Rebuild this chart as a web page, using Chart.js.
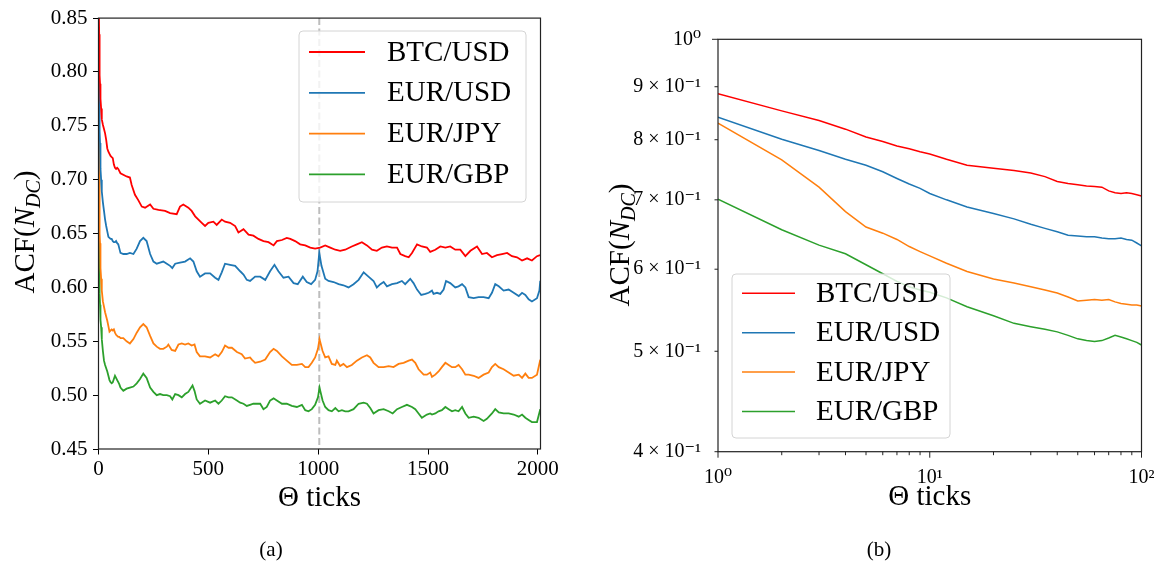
<!DOCTYPE html>
<html>
<head>
<meta charset="utf-8">
<script src="https://cdn.jsdelivr.net/npm/chart.js@4.4.1/dist/chart.umd.min.js"></script>
<style>
  body { margin: 0; background: #fff; width: 1162px; height: 567px; overflow: hidden; position: relative; font-family: 'Liberation Serif', serif; }
  canvas { position: absolute; top: 0; }
  #acfLinear { left: 0; }
  #acfLogLog { left: 580px; }
  .caption { position: absolute; top: 536px; font-size: 21px; line-height: 26px; transform: translateX(-50%); color: #000; }
</style>
</head>
<body>
<canvas id="acfLinear" width="580" height="567"></canvas>
<canvas id="acfLogLog" width="582" height="567"></canvas>
<div class="caption" style="left:271px">(a)</div>
<div class="caption" style="left:879px">(b)</div>
<script>
// ACF of directional-change counts vs. threshold lag (Θ ticks)
const pairNames = ['BTC/USD', 'EUR/USD', 'EUR/JPY', 'EUR/GBP'];
const pairColors = ['#ff0000', '#1f77b4', '#ff7f0e', '#2ca02c'];

// lags 1..100 (shared by both panels)
const shortLags = [1, 2, 3, 4, 5, 6, 7, 8, 9, 10, 12, 15, 20, 25, 30, 35, 40, 45, 50, 55, 60, 65, 70, 75, 80, 85, 90, 95, 100];
const btcShort = [0.886, 0.853, 0.835, 0.819, 0.805, 0.797, 0.789, 0.784, 0.779, 0.775, 0.766, 0.756, 0.751, 0.747, 0.743, 0.737, 0.729, 0.726, 0.724, 0.722, 0.721, 0.720, 0.714, 0.711, 0.710, 0.711, 0.710, 0.708, 0.706];
const eurUsdShort = [0.841, 0.801, 0.781, 0.766, 0.756, 0.745, 0.734, 0.725, 0.718, 0.710, 0.700, 0.689, 0.679, 0.671, 0.663, 0.657, 0.652, 0.647, 0.646, 0.645, 0.645, 0.643, 0.642, 0.642, 0.643, 0.641, 0.640, 0.636, 0.632];
const eurJpyShort = [0.830, 0.765, 0.720, 0.682, 0.659, 0.650, 0.641, 0.631, 0.624, 0.618, 0.608, 0.597, 0.587, 0.582, 0.577, 0.573, 0.569, 0.564, 0.559, 0.560, 0.561, 0.560, 0.561, 0.558, 0.556, 0.555, 0.554, 0.554, 0.553];
const eurGbpShort = [0.701, 0.655, 0.633, 0.621, 0.606, 0.594, 0.584, 0.577, 0.573, 0.570, 0.563, 0.552, 0.541, 0.532, 0.528, 0.525, 0.522, 0.518, 0.514, 0.512, 0.511, 0.512, 0.515, 0.518, 0.516, 0.514, 0.512, 0.510, 0.507];

// lags beyond 100 (panel a only)
const btcLongLags = [128, 143, 151, 166, 181, 197, 212, 235, 250, 273, 303, 326, 356, 371, 386, 409, 424, 440, 470, 485, 500, 523, 538, 561, 576, 599, 622, 637, 660, 683, 705, 728, 751, 774, 797, 812, 835, 857, 873, 895, 918, 941, 964, 986, 1009, 1032, 1055, 1078, 1100, 1123, 1153, 1176, 1199, 1222, 1245, 1267, 1290, 1313, 1336, 1359, 1374, 1396, 1412, 1427, 1450, 1472, 1495, 1510, 1533, 1556, 1579, 1601, 1624, 1647, 1670, 1693, 1723, 1746, 1768, 1791, 1814, 1837, 1860, 1882, 1905, 1928, 1951, 1973, 1996, 2010];
const btcLong = [0.703, 0.702, 0.695, 0.686, 0.681, 0.675, 0.674, 0.677, 0.673, 0.672, 0.671, 0.669, 0.668, 0.675, 0.677, 0.674, 0.671, 0.666, 0.660, 0.657, 0.660, 0.661, 0.658, 0.663, 0.661, 0.660, 0.657, 0.651, 0.654, 0.649, 0.648, 0.645, 0.643, 0.642, 0.639, 0.643, 0.644, 0.646, 0.645, 0.643, 0.640, 0.639, 0.637, 0.636, 0.637, 0.639, 0.637, 0.635, 0.634, 0.635, 0.638, 0.640, 0.642, 0.639, 0.635, 0.634, 0.637, 0.638, 0.637, 0.637, 0.631, 0.629, 0.628, 0.632, 0.640, 0.638, 0.637, 0.633, 0.635, 0.638, 0.637, 0.638, 0.635, 0.635, 0.629, 0.634, 0.638, 0.631, 0.632, 0.628, 0.630, 0.631, 0.632, 0.629, 0.628, 0.625, 0.627, 0.625, 0.629, 0.630];

const eurUsdLongLags = [113, 128, 143, 159, 174, 189, 204, 219, 235, 250, 265, 280, 295, 311, 326, 336, 349, 371, 394, 417, 432, 447, 462, 485, 508, 531, 546, 561, 576, 599, 622, 645, 660, 675, 690, 713, 736, 759, 781, 801, 819, 842, 865, 888, 907, 930, 948, 968, 986, 997, 1005, 1015, 1032, 1047, 1070, 1093, 1115, 1138, 1161, 1184, 1207, 1229, 1252, 1267, 1283, 1298, 1313, 1336, 1359, 1381, 1396, 1419, 1434, 1450, 1469, 1488, 1503, 1518, 1525, 1541, 1556, 1571, 1582, 1601, 1624, 1639, 1655, 1670, 1685, 1708, 1730, 1753, 1776, 1791, 1806, 1822, 1844, 1867, 1890, 1913, 1928, 1943, 1958, 1973, 1996, 2007, 2011];
const eurUsdLong = [0.631, 0.631, 0.632, 0.631, 0.636, 0.643, 0.646, 0.643, 0.631, 0.624, 0.622, 0.623, 0.624, 0.622, 0.620, 0.618, 0.622, 0.623, 0.624, 0.627, 0.624, 0.615, 0.610, 0.613, 0.613, 0.609, 0.607, 0.614, 0.622, 0.621, 0.620, 0.615, 0.612, 0.607, 0.606, 0.610, 0.610, 0.607, 0.615, 0.621, 0.615, 0.609, 0.610, 0.604, 0.603, 0.610, 0.605, 0.603, 0.607, 0.615, 0.632, 0.620, 0.608, 0.606, 0.605, 0.603, 0.602, 0.600, 0.603, 0.607, 0.614, 0.610, 0.606, 0.600, 0.603, 0.605, 0.601, 0.603, 0.604, 0.606, 0.603, 0.608, 0.604, 0.598, 0.593, 0.594, 0.595, 0.597, 0.594, 0.595, 0.594, 0.598, 0.606, 0.604, 0.600, 0.601, 0.603, 0.600, 0.591, 0.590, 0.591, 0.591, 0.590, 0.595, 0.603, 0.601, 0.597, 0.598, 0.595, 0.592, 0.595, 0.593, 0.589, 0.587, 0.590, 0.597, 0.606];

const eurJpyLongLags = [113, 128, 143, 159, 174, 189, 204, 219, 235, 250, 265, 280, 295, 311, 318, 333, 349, 364, 379, 394, 409, 424, 437, 447, 462, 485, 508, 531, 546, 561, 576, 592, 607, 630, 652, 667, 690, 698, 713, 736, 759, 781, 797, 812, 835, 857, 880, 903, 926, 941, 956, 971, 986, 999, 1006, 1020, 1032, 1047, 1062, 1078, 1085, 1100, 1115, 1131, 1153, 1176, 1199, 1222, 1237, 1252, 1275, 1298, 1321, 1343, 1366, 1389, 1412, 1427, 1442, 1457, 1480, 1495, 1510, 1518, 1533, 1548, 1563, 1579, 1594, 1609, 1624, 1639, 1655, 1670, 1685, 1708, 1730, 1753, 1776, 1791, 1806, 1822, 1844, 1867, 1890, 1913, 1928, 1943, 1958, 1973, 1996, 2011];
const eurJpyLong = [0.553, 0.550, 0.548, 0.552, 0.558, 0.563, 0.566, 0.563, 0.555, 0.548, 0.545, 0.543, 0.543, 0.545, 0.547, 0.542, 0.541, 0.547, 0.548, 0.547, 0.548, 0.546, 0.547, 0.540, 0.536, 0.536, 0.535, 0.538, 0.536, 0.540, 0.546, 0.544, 0.544, 0.540, 0.538, 0.534, 0.535, 0.533, 0.530, 0.531, 0.533, 0.540, 0.543, 0.541, 0.536, 0.532, 0.528, 0.528, 0.529, 0.526, 0.526, 0.530, 0.535, 0.543, 0.552, 0.541, 0.535, 0.536, 0.529, 0.528, 0.532, 0.527, 0.529, 0.526, 0.528, 0.532, 0.535, 0.537, 0.535, 0.530, 0.526, 0.526, 0.527, 0.526, 0.529, 0.530, 0.532, 0.533, 0.530, 0.524, 0.519, 0.519, 0.521, 0.517, 0.519, 0.522, 0.526, 0.530, 0.528, 0.526, 0.526, 0.528, 0.524, 0.519, 0.519, 0.518, 0.516, 0.519, 0.521, 0.526, 0.529, 0.526, 0.524, 0.521, 0.518, 0.519, 0.516, 0.520, 0.516, 0.516, 0.519, 0.533];

const eurGbpLongLags = [113, 128, 143, 159, 174, 189, 204, 219, 235, 250, 265, 280, 295, 311, 326, 336, 349, 364, 379, 394, 409, 428, 437, 447, 462, 485, 508, 531, 546, 561, 576, 592, 607, 630, 645, 660, 675, 690, 705, 721, 736, 751, 766, 781, 797, 812, 835, 857, 880, 903, 926, 941, 956, 971, 986, 999, 1006, 1020, 1032, 1047, 1062, 1078, 1093, 1108, 1123, 1138, 1161, 1184, 1207, 1222, 1237, 1252, 1275, 1298, 1321, 1339, 1359, 1381, 1404, 1427, 1442, 1457, 1472, 1495, 1510, 1518, 1533, 1548, 1563, 1579, 1594, 1609, 1624, 1639, 1655, 1670, 1685, 1708, 1730, 1753, 1768, 1791, 1806, 1822, 1844, 1867, 1890, 1913, 1928, 1943, 1958, 1973, 1996, 2011];
const eurGbpLong = [0.504, 0.506, 0.507, 0.508, 0.511, 0.515, 0.520, 0.516, 0.507, 0.503, 0.500, 0.501, 0.500, 0.500, 0.499, 0.496, 0.501, 0.500, 0.498, 0.501, 0.503, 0.509, 0.504, 0.496, 0.492, 0.495, 0.493, 0.495, 0.492, 0.495, 0.499, 0.498, 0.498, 0.495, 0.493, 0.492, 0.490, 0.491, 0.492, 0.492, 0.492, 0.487, 0.489, 0.495, 0.497, 0.495, 0.492, 0.492, 0.490, 0.489, 0.491, 0.486, 0.485, 0.487, 0.491, 0.498, 0.507, 0.495, 0.489, 0.486, 0.485, 0.488, 0.485, 0.486, 0.485, 0.485, 0.487, 0.492, 0.493, 0.492, 0.488, 0.483, 0.486, 0.487, 0.485, 0.483, 0.487, 0.489, 0.491, 0.489, 0.487, 0.483, 0.479, 0.482, 0.483, 0.482, 0.483, 0.485, 0.486, 0.489, 0.487, 0.485, 0.486, 0.485, 0.489, 0.483, 0.479, 0.480, 0.479, 0.476, 0.478, 0.483, 0.487, 0.484, 0.483, 0.483, 0.482, 0.480, 0.482, 0.479, 0.477, 0.475, 0.475, 0.487];

const markerLag = 1005;           // dashed reference line in panel (a)
const linearXTicks = [0, 500, 1000, 1500, 2000];
const logXTicks = [1, 2, 3, 4, 5, 6, 7, 8, 9, 10, 20, 30, 40, 50, 60, 70, 80, 90, 100];
const logYTicks = [0.4, 0.5, 0.6, 0.7, 0.8, 0.9, 1];

const serif = "'Liberation Serif', 'DejaVu Serif', serif";
Chart.defaults.font.family = serif;
Chart.defaults.color = '#000';

function toPoints(lags, values) {
  return lags.map((x, i) => ({ x: x, y: values[i] }));
}

const shortSets = [btcShort, eurUsdShort, eurJpyShort, eurGbpShort];
const longSets = [
  [btcLongLags, btcLong],
  [eurUsdLongLags, eurUsdLong],
  [eurJpyLongLags, eurJpyLong],
  [eurGbpLongLags, eurGbpLong]
];

function makeDatasets(withLong, width) {
  return pairNames.map((name, i) => {
    let pts = toPoints(shortLags, shortSets[i]);
    if (withLong) pts = pts.concat(toPoints(longSets[i][0], longSets[i][1]));
    return {
      label: name,
      data: pts,
      borderColor: pairColors[i],
      backgroundColor: pairColors[i],
      borderWidth: width,
      pointRadius: 0,
      tension: 0,
      fill: false
    };
  });
}

// superscript digits for 10^n tick labels
const supMap = { '-': '\u207B', '0': '\u2070', '1': '\u00B9', '2': '\u00B2', '3': '\u00B3', '4': '\u2074', '5': '\u2075', '6': '\u2076', '7': '\u2077', '8': '\u2078', '9': '\u2079' };
function sup(n) {
  return String(n).split('').map(c => supMap[c]).join('');
}
function isPow10(v) {
  const l = Math.log10(v);
  return Math.abs(l - Math.round(l)) < 1e-9;
}

// box around the axes, dashed marker and log tick marks
const axesFrame = {
  id: 'axesFrame',
  beforeDatasetsDraw(chart, args, opts) {
    if (opts.markerLag == null) return;
    const { ctx, chartArea: a, scales } = chart;
    const px = scales.x.getPixelForValue(opts.markerLag);
    ctx.save();
    ctx.strokeStyle = '#bdbdbd';
    ctx.lineWidth = 2;
    ctx.setLineDash([7, 3.5]);
    ctx.beginPath();
    ctx.moveTo(px, a.top);
    ctx.lineTo(px, a.bottom);
    ctx.stroke();
    ctx.restore();
  },
  afterDatasetsDraw(chart, args, opts) {
    const { ctx, chartArea: a, scales } = chart;
    ctx.save();
    ctx.strokeStyle = opts.color;
    ctx.lineWidth = opts.width;
    ctx.strokeRect(a.left, a.top, a.right - a.left, a.bottom - a.top);
    if (opts.logTicks) {
      ctx.lineWidth = 1;
      ctx.beginPath();
      scales.x.ticks.forEach(t => {
        const px = scales.x.getPixelForValue(t.value);
        const len = isPow10(t.value) ? 6 : 3.5;
        ctx.moveTo(px, a.bottom);
        ctx.lineTo(px, a.bottom + len);
      });
      scales.y.ticks.forEach(t => {
        const py = scales.y.getPixelForValue(t.value);
        const len = isPow10(t.value) ? 6 : 3.5;
        ctx.moveTo(a.left, py);
        ctx.lineTo(a.left - len, py);
      });
      ctx.stroke();
    }
    ctx.restore();
  }
};

// legend in a rounded box
const boxLegend = {
  id: 'boxLegend',
  afterDatasetsDraw(chart, args, o) {
    const ctx = chart.ctx;
    ctx.save();
    ctx.beginPath();
    if (ctx.roundRect) ctx.roundRect(o.x, o.y, o.w, o.h, 4);
    else ctx.rect(o.x, o.y, o.w, o.h);
    ctx.fillStyle = 'rgba(255,255,255,0.8)';
    ctx.fill();
    ctx.strokeStyle = '#d4d4d4';
    ctx.lineWidth = 1;
    ctx.stroke();
    ctx.font = o.size + 'px ' + serif;
    ctx.textBaseline = 'middle';
    ctx.fillStyle = '#000';
    chart.data.datasets.forEach((ds, i) => {
      const cy = o.y + o.firstRow + i * o.rowGap;
      ctx.strokeStyle = ds.borderColor;
      ctx.lineWidth = ds.borderWidth;
      ctx.beginPath();
      ctx.moveTo(o.x + 10, cy);
      ctx.lineTo(o.x + 10 + o.lineLen, cy);
      ctx.stroke();
      ctx.fillText(ds.label, o.x + o.textOffset, cy + 1);
    });
    ctx.restore();
  }
};

// rotated y label ACF(N_DC) with italic N and subscript
const acfTitle = {
  id: 'acfTitle',
  afterDraw(chart, args, o) {
    const ctx = chart.ctx;
    const s = o.size;
    const parts = [
      ['ACF(', s + 'px ' + serif, 0],
      ['N', 'italic ' + s + 'px ' + serif, 0],
      ['DC', 'italic ' + Math.round(s * 0.7) + 'px ' + serif, s * 0.22],
      [')', s + 'px ' + serif, 0]
    ];
    ctx.save();
    ctx.translate(o.x, o.y);
    ctx.rotate(-Math.PI / 2);
    ctx.fillStyle = '#000';
    ctx.textBaseline = 'alphabetic';
    let total = 0;
    parts.forEach(p => { ctx.font = p[1]; p.push(ctx.measureText(p[0]).width); total += p[3]; });
    let x = -total / 2;
    parts.forEach(p => {
      ctx.font = p[1];
      ctx.fillText(p[0], x, s * 0.33 + p[2]);
      x += p[3];
    });
    ctx.restore();
  }
};

const tickFont = { size: 21 };
const logTickFont = { size: 20 };
const titleFont = { size: 29 };

// (a) linear axes, lags up to ~2000
new Chart(document.getElementById('acfLinear'), {
  type: 'line',
  data: { datasets: makeDatasets(true, 1.8) },
  options: {
    responsive: false,
    animation: false,
    events: [],
    layout: { padding: { left: 0, right: 39.5, top: 17.5, bottom: 51 } },
    scales: {
      x: {
        type: 'linear',
        min: 0,
        max: 2012,
        afterFit: s => { s.height = 67; },
        afterBuildTicks: s => { s.ticks = linearXTicks.map(v => ({ value: v })); },
        grid: { drawOnChartArea: false, drawTicks: true, tickLength: 5.5, color: '#000' },
        border: { display: false },
        ticks: { font: tickFont, padding: 2, maxRotation: 0, autoSkip: false, callback: v => String(v) },
        title: { display: true, text: 'Θ ticks', font: titleFont, padding: 0 }
      },
      y: {
        min: 0.45,
        max: 0.85,
        afterFit: s => { s.width = 98.5; },
        grid: { drawOnChartArea: false, drawTicks: true, tickLength: 5.5, color: '#000' },
        border: { display: false },
        ticks: { stepSize: 0.05, font: tickFont, padding: 5.5, callback: v => v.toFixed(2) }
      }
    },
    plugins: {
      legend: { display: false },
      tooltip: { enabled: false },
      axesFrame: { color: '#222', width: 1.2, markerLag: markerLag },
      boxLegend: { x: 299, y: 31, w: 227, h: 171, firstRow: 21, rowGap: 40.8, lineLen: 56, textOffset: 88, size: 29 },
      acfTitle: { x: 24, y: 232, size: 29 }
    }
  },
  plugins: [axesFrame, boxLegend, acfTitle]
});

// (b) log-log axes, lags 1..100
new Chart(document.getElementById('acfLogLog'), {
  type: 'line',
  data: { datasets: makeDatasets(false, 1.5) },
  options: {
    responsive: false,
    animation: false,
    events: [],
    layout: { padding: { left: 0, right: 20.5, top: 39.3, bottom: 52.3 } },
    scales: {
      x: {
        type: 'logarithmic',
        min: 1,
        max: 100,
        afterFit: s => { s.height = 63; },
        afterBuildTicks: s => { s.ticks = logXTicks.map(v => ({ value: v })); },
        grid: { display: false },
        border: { display: false },
        ticks: {
          font: logTickFont, padding: 6, maxRotation: 0, autoSkip: false,
          callback: v => isPow10(v) ? '10' + sup(Math.round(Math.log10(v))) : ''
        },
        title: { display: true, text: 'Θ ticks', font: titleFont, padding: 0 }
      },
      y: {
        type: 'logarithmic',
        min: 0.4,
        max: 1,
        afterFit: s => { s.width = 138; },
        afterBuildTicks: s => { s.ticks = logYTicks.map(v => ({ value: v })); },
        grid: { display: false },
        border: { display: false },
        ticks: {
          font: logTickFont, padding: 9, autoSkip: false,
          callback: v => {
            const e = Math.floor(Math.log10(v) + 1e-9);
            const m = Math.round(v / Math.pow(10, e));
            return m === 1 ? '10' + sup(e) : m + '\u2005×\u200510' + sup(e);
          }
        }
      }
    },
    plugins: {
      legend: { display: false },
      tooltip: { enabled: false },
      axesFrame: { color: '#222', width: 1.2, logTicks: true },
      boxLegend: { x: 152, y: 274, w: 218, h: 164, firstRow: 19.3, rowGap: 39.4, lineLen: 53, textOffset: 84, size: 29 },
      acfTitle: { x: 39.5, y: 245, size: 29 }
    }
  },
  plugins: [axesFrame, boxLegend, acfTitle]
});
</script>
</body>
</html>
